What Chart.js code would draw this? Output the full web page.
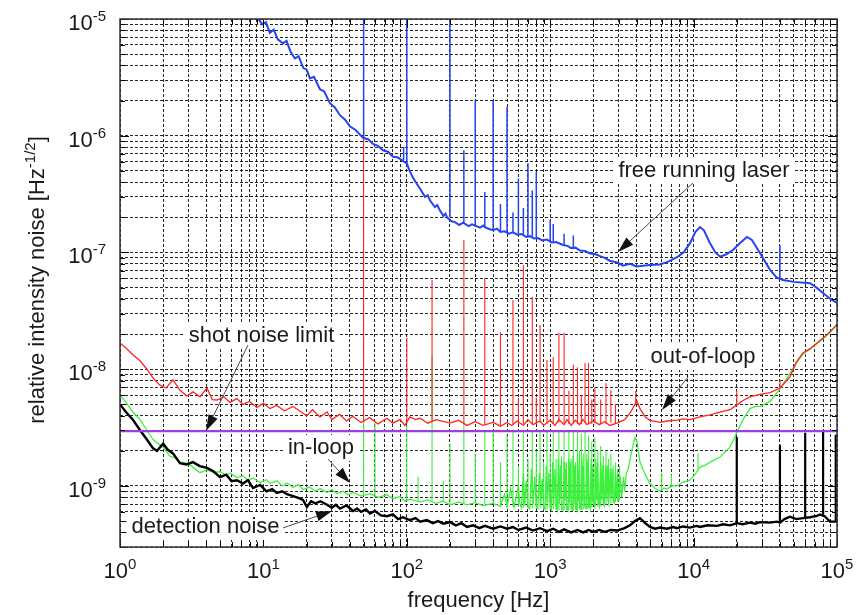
<!DOCTYPE html>
<html>
<head>
<meta charset="utf-8">
<script src="https://cdn.jsdelivr.net/npm/chart.js@4.4.0/dist/chart.umd.min.js"></script>
<style>
  html, body { margin: 0; padding: 0; background: #fff; }
  canvas { display: block; }
</style>
</head>
<body>
<canvas id="rin" width="865" height="615"></canvas>
<script>
// axis ranges and tick labels (exponents of 10)
const xRange = [1, 1e5];
const yRange = [3e-10, 1e-5];
const xTickExp = [0, 1, 2, 3, 4, 5];
const yTickExp = [-5, -6, -7, -8, -9];

// [frequency Hz, RIN 1/sqrt(Hz)]
const freeRunning = [
  [9.0,1.05e-5],[9.8,9.0e-6],[10.4,9.4e-6],[11.1,7.6e-6],[11.8,8.1e-6],[12.6,6.7e-6],[13.7,6.2e-6],[14.5,6.5e-6],
  [15.5,5.2e-6],[16.6,4.6e-6],[17.6,4.8e-6],[19.0,3.8e-6],[20.0,3.7e-6],[21.1,3.1e-6],[22.5,3.2e-6],[24.8,2.5e-6],
  [26.5,2.4e-6],[29.1,1.9e-6],[31.5,1.75e-6],[34.2,1.5e-6],[37.0,1.38e-6],[40.2,1.2e-6],[44.0,1.12e-6],[49.5,9.6e-7],
  [54.0,9.3e-7],[58.1,8.5e-7],[63.0,8.2e-7],[68.2,7.5e-7],[74.0,7.3e-7],[80.1,6.6e-7],[87.0,6.5e-7],[94.0,6.1e-7],
  [100,5.8e-7],[104,5.1e-7],[110,4.4e-7],[117,3.9e-7],[124,3.5e-7],[134,3.0e-7],[140,3.1e-7],[145,2.8e-7],[157,2.45e-7],
  [163,2.55e-7],[170,2.3e-7],[180,2.05e-7],[186,2.15e-7],[191,2.0e-7],[205,1.85e-7],[217,1.82e-7],[232,1.72e-7],[247,1.8e-7],
  [270,1.68e-7],[285,1.74e-7],[300,1.7e-7],[324,1.63e-7],[340,1.7e-7],[360,1.62e-7],[380,1.58e-7],[400,1.55e-7],[425,1.6e-7],
  [450,1.5e-7],[480,1.52e-7],[515,1.45e-7],[550,1.49e-7],[590,1.42e-7],[630,1.44e-7],[680,1.36e-7],[723,1.38e-7],
  [770,1.32e-7],[820,1.33e-7],[880,1.27e-7],[950,1.29e-7],[1020,1.22e-7],[1100,1.23e-7],[1228,1.16e-7],[1320,1.14e-7],
  [1400,1.09e-7],[1500,1.1e-7],[1614,1.04e-7],[1750,1.03e-7],[1900,9.8e-8],[2050,9.7e-8],[2225,9.3e-8],[2400,9.0e-8],
  [2600,8.5e-8],[2924,8.2e-8],[3220,7.7e-8],[3600,8.0e-8],[4000,7.6e-8],[4965,7.8e-8],[5800,7.9e-8],
  [6600,8.3e-8],[7660,9.1e-8],[8500,1.0e-7],[9440,1.2e-7],[10300,1.5e-7],[11090,1.65e-7],[11800,1.55e-7],[13010,1.2e-7],
  [14200,1.0e-7],[15280,9.2e-8],[16800,9.6e-8],[18830,1.05e-7],[21000,1.2e-7],[23570,1.36e-7],[25500,1.28e-7],[29030,9.9e-8],
  [34120,7.1e-8],[38000,6.1e-8],[42010,5.8e-8],[50000,5.6e-8],[64860,5.45e-8],[72000,5.0e-8],[79860,4.5e-8],[90000,4.0e-8],
  [100000,3.7e-8]
];
// [frequency, foot, top]
const freeSpikes = [
  [50,9.6e-7,1e-5],[95,6.2e-7,8.0e-7],[100,5.8e-7,1e-5],[200,2.0e-7,1e-5],[250,1.8e-7,7.5e-7],[300,1.7e-7,2.0e-6],
  [350,1.62e-7,3.3e-7],[400,1.55e-7,2.0e-6],[450,1.52e-7,2.6e-7],[500,1.5e-7,1.76e-6],[550,1.48e-7,2.2e-7],
  [600,1.45e-7,4.3e-7],[650,1.42e-7,2.4e-7],[700,1.39e-7,5.8e-7],[750,1.37e-7,3.4e-7],[800,1.34e-7,4.9e-7],
  [1000,1.26e-7,1.9e-7],[1050,1.24e-7,1.75e-7],[1250,1.16e-7,1.45e-7],[1450,1.09e-7,1.4e-7],[40000,5.9e-8,1.16e-7]
];

const outOfLoop = [
  [1.0,1.68e-8],[1.1,1.52e-8],[1.23,1.33e-8],[1.38,1.18e-8],[1.54,1.0e-8],[1.7,8.4e-9],[1.9,7.3e-9],[2.1,6.9e-9],
  [2.34,8.1e-9],[2.62,6.6e-9],[2.93,5.9e-9],[3.23,6.4e-9],[3.61,5.8e-9],[4.04,6.9e-9],[4.4,5.5e-9],[4.75,5.45e-9],
  [5.3,5.8e-9],[5.85,5.2e-9],[6.54,5.6e-9],[7.2,5.0e-9],[8.0,5.3e-9],[9.0,4.7e-9],[10,5.1e-9],[11.1,4.6e-9],
  [12.4,4.9e-9],[14,4.4e-9],[16.1,4.8e-9],[18.9,4.2e-9],[20.1,4.0e-9],[22,4.5e-9],[24.8,3.9e-9],[27.8,4.3e-9],
  [30,3.7e-9],[34,4.1e-9],[38,3.6e-9],[42,3.95e-9],[48,3.5e-9],[55,3.85e-9],[63,3.4e-9],[72.8,3.8e-9],
  [80,3.45e-9],[89.7,3.7e-9],[97,3.3e-9],[105,3.9e-9],[115,3.7e-9],[124,3.8e-9],[140,3.45e-9],[160,3.7e-9],
  [200,3.45e-9],[230,3.65e-9],[263,3.3e-9],[300,3.55e-9],[340,3.3e-9],[400,3.5e-9],[450,3.25e-9],[500,3.5e-9],
  [540,3.3e-9],[587,3.6e-9],[650,3.3e-9],[700,3.7e-9],[758,3.35e-9],[850,3.6e-9],[900,3.3e-9],[1000,3.65e-9],
  [1080,3.3e-9],[1150,3.7e-9],[1250,3.35e-9],[1309,3.7e-9],[1400,3.3e-9],[1500,3.65e-9],[1600,3.35e-9],[1694,3.7e-9],
  [1800,3.35e-9],[2000,3.6e-9],[2200,3.35e-9],[2400,3.55e-9],[2600,3.3e-9],[2924,3.45e-9],[3300,3.7e-9],[3600,4.2e-9],
  [3900,5.0e-9],[4030,5.3e-9],[4229,4.6e-9],[4600,3.9e-9],[4965,3.65e-9],[5834,3.5e-9],[6531,3.6e-9],[7660,3.67e-9],
  [8436,3.75e-9],[9440,3.7e-9],[11090,3.9e-9],[13010,4.06e-9],[15280,4.3e-9],[17950,4.5e-9],[20080,4.95e-9],[22120,5.4e-9],
  [24720,5.8e-9],[29030,6.1e-9],[34120,6.3e-9],[40070,6.9e-9],[47000,8.6e-9],[52000,1.15e-8],[57940,1.38e-8],[64860,1.5e-8],
  [72550,1.68e-8],[82000,1.9e-8],[89330,2.1e-8],[100000,2.4e-8]
];
const outSpikes = [
  [50,3.6e-9,1.1e-6],[100,3.4e-9,1.85e-8],[150,3.6e-9,5.8e-8],[250,3.4e-9,1.28e-7],[350,3.35e-9,6.05e-8],
  [450,3.3e-9,2.08e-8],[550,3.4e-9,3.92e-8],[600,3.4e-9,5.7e-9],[650,3.4e-9,7.8e-8],[750,3.4e-9,4.16e-8],
  [800,3.4e-9,5.7e-9],[850,3.5e-9,2.39e-8],[950,3.4e-9,1.2e-8],[1050,3.4e-9,1.27e-8],[1150,3.5e-9,2.05e-8],
  [1250,3.4e-9,2.05e-8],[1350,3.4e-9,6.5e-9],[1450,3.5e-9,1.09e-8],[1550,3.4e-9,1.04e-8],[1650,3.4e-9,6.0e-9],
  [1750,3.5e-9,1.13e-8],[1850,3.4e-9,1.13e-8],[1950,3.4e-9,5.5e-9],[2050,3.5e-9,7.05e-9],[2250,3.4e-9,5.5e-9],
  [2450,3.4e-9,7.6e-9],[2650,3.5e-9,6.6e-9],[2850,3.4e-9,5.0e-9],[3950,5.0e-9,6.5e-9],[20000,4.9e-9,6.6e-9],
  [40000,6.9e-9,8.1e-9]
];

const inLoop = [
  [1.0,6.0e-9],[1.1,5.2e-9],[1.23,4.3e-9],[1.38,3.7e-9],[1.54,3.0e-9],[1.7,2.5e-9],[1.81,2.35e-9],[2.0,2.15e-9],
  [2.23,1.8e-9],[2.45,1.72e-9],[2.6,1.6e-9],[2.93,1.57e-9],[3.23,1.45e-9],[3.61,1.3e-9],[4.04,1.37e-9],[4.5,1.3e-9],
  [4.98,1.33e-9],[5.5,1.23e-9],[5.85,1.29e-9],[6.54,1.18e-9],[7.2,1.22e-9],[7.8,1.12e-9],[8.46,1.17e-9],[9.5,1.07e-9],
  [10.5,1.13e-9],[11.1,1.05e-9],[12.4,1.11e-9],[13.5,1.0e-9],[14.6,1.06e-9],[16.1,9.7e-10],[17.5,1.03e-9],[18.9,9.3e-10],
  [21,9.8e-10],[23,9.0e-10],[24.8,9.5e-10],[27.8,8.8e-10],[30,9.3e-10],[32.6,8.6e-10],[36,9.0e-10],[39,8.4e-10],
  [42.2,8.8e-10],[48,8.2e-10],[55.4,8.6e-10],[63,8.0e-10],[72.8,8.4e-10],[80,7.8e-10],[89.7,8.1e-10],[97,7.4e-10],
  [105,7.7e-10],[124,7.3e-10],[140,7.6e-10],[160,7.1e-10],[179,7.4e-10],[200,6.9e-10],[230,7.3e-10],[263,6.9e-10],
  [300,7.2e-10],[340,6.8e-10],[400,7.1e-10],[450,6.7e-10],[480,8.5e-10],[500,6.6e-10],[530,9.5e-10],[560,6.6e-10],
  [600,1.0e-9],[615,7.0e-10],[630,6.5e-10],[650,1.3e-9],[665,6.8e-10],[680,1.1e-9],[700,6.6e-10],[720,6.4e-10],
  [740,1.4e-9],[760,7.0e-10],[780,1.2e-9],[800,6.5e-10],[820,6.4e-10],[840,1.3e-9],[860,7.0e-10],[880,1.15e-9],
  [900,6.6e-10],[920,6.3e-10],[940,1.5e-9],[960,7.2e-10],[980,1.3e-9],[1000,6.6e-10],[1020,6.3e-10],[1040,1.6e-9],
  [1060,7.0e-10],[1080,1.4e-9],[1100,6.6e-10],[1120,6.2e-10],[1140,1.7e-9],[1160,7.0e-10],[1180,1.5e-9],[1200,6.5e-10],
  [1230,6.2e-10],[1250,1.6e-9],[1265,7.5e-10],[1280,1.4e-9],[1300,6.6e-10],[1330,6.2e-10],[1345,1.7e-9],[1360,7.2e-10],
  [1380,1.6e-9],[1400,6.8e-10],[1420,6.2e-10],[1440,1.8e-9],[1460,7.0e-10],[1480,1.5e-9],[1500,6.6e-10],[1530,6.2e-10],
  [1550,1.8e-9],[1570,7.4e-10],[1600,1.6e-9],[1620,7.0e-10],[1640,6.3e-10],[1660,1.7e-9],[1680,7.5e-10],[1700,1.5e-9],
  [1740,6.8e-10],[1780,6.4e-10],[1800,1.7e-9],[1820,7.6e-10],[1840,1.6e-9],[1870,7.0e-10],[1900,6.4e-10],[1930,1.7e-9],
  [1960,7.4e-10],[1980,1.5e-9],[2010,7.0e-10],[2050,6.6e-10],[2080,1.7e-9],[2110,7.6e-10],[2140,1.6e-9],[2170,7.2e-10],
  [2200,6.7e-10],[2250,1.6e-9],[2280,7.6e-10],[2320,1.5e-9],[2350,7.2e-10],[2380,6.8e-10],[2430,1.5e-9],[2460,7.8e-10],
  [2500,1.5e-9],[2530,7.4e-10],[2560,7.0e-10],[2620,1.4e-9],[2660,8.0e-10],[2700,1.4e-9],[2750,7.6e-10],[2800,7.2e-10],
  [2850,1.3e-9],[2900,8.0e-10],[2950,1.3e-9],[3000,7.4e-10],[3080,1.2e-9],[3150,8.0e-10],[3250,1.2e-9],[3300,9.0e-10],
  [3400,1.3e-9],[3500,1.4e-9],[3700,2.0e-9],[3900,2.6e-9],[4030,2.4e-9],[4229,1.6e-9],[4600,1.25e-9],[4965,1.05e-9],
  [5400,9.5e-10],[5834,9.0e-10],[6200,9.6e-10],[6531,9.4e-10],[7000,1.0e-9],[7660,1.0e-9],[8436,1.08e-9],[9440,1.12e-9],
  [10200,1.25e-9],[11090,1.45e-9],[12000,1.5e-9],[13010,1.6e-9],[15280,1.77e-9],[17950,2.15e-9],[20080,2.9e-9],[22120,3.7e-9],
  [24720,4.6e-9],[27000,4.8e-9],[29030,4.8e-9],[34120,5.3e-9],[40070,6.8e-9],[47000,9.2e-9],[52000,1.12e-8],[57940,1.35e-8],
  [64860,1.48e-8],[72550,1.66e-8],[82000,1.88e-8],[89330,2.05e-8],[100000,2.45e-8]
];
const inSpikes = [
  [50,8.3e-10,4.0e-9],[60,8.1e-10,3.5e-9],[100,7.6e-10,3.3e-9],[120,7.4e-10,1.2e-9],[150,7.5e-10,1.3e-8],
  [180,7.4e-10,1.1e-9],[200,7.0e-10,2.3e-9],[250,7.1e-10,3.5e-9],[300,7.2e-10,1.9e-9],[350,6.9e-10,3.0e-9],
  [400,7.1e-10,2.9e-9],[450,6.7e-10,1.6e-9],[500,6.6e-10,2.7e-9],[550,6.6e-10,3.0e-9],[600,6.6e-10,1.5e-9],
  [650,6.5e-10,3.0e-9],[700,6.4e-10,1.7e-9],[750,6.4e-10,3.0e-9],[800,6.4e-10,2.0e-9],[850,6.4e-10,3.0e-9],
  [900,6.3e-10,1.6e-9],[950,6.3e-10,3.0e-9],[1000,6.3e-10,1.9e-9],[1050,6.3e-10,3.0e-9],[1100,6.2e-10,1.7e-9],
  [1150,6.2e-10,3.0e-9],[1200,6.2e-10,1.8e-9],[1250,6.2e-10,3.0e-9],[1300,6.2e-10,1.6e-9],[1350,6.2e-10,2.9e-9],
  [1400,6.2e-10,1.7e-9],[1450,6.2e-10,3.0e-9],[1500,6.2e-10,1.6e-9],[1550,6.2e-10,3.0e-9],[1600,6.3e-10,2.0e-9],
  [1650,6.3e-10,2.8e-9],[1700,6.3e-10,1.9e-9],[1750,6.4e-10,3.0e-9],[1800,6.4e-10,1.9e-9],[1850,6.4e-10,2.7e-9],
  [1950,6.5e-10,2.4e-9],[2050,6.6e-10,2.6e-9],[2150,6.7e-10,2.0e-9],[2250,6.7e-10,2.2e-9],[2350,6.8e-10,1.8e-9],
  [2450,6.9e-10,2.0e-9],[2550,7.0e-10,1.7e-9],[2650,7.1e-10,1.9e-9],[2750,7.2e-10,1.5e-9],[2850,7.3e-10,1.6e-9],
  [2950,7.4e-10,1.4e-9],[3050,7.5e-10,1.5e-9],[6000,9.3e-10,1.3e-9],[7000,1.0e-9,1.25e-9],[10740,1.4e-9,1.9e-9]
];

const detection = [
  [1.0,5.0e-9],[1.1,4.3e-9],[1.23,3.7e-9],[1.38,3.0e-9],[1.54,2.5e-9],[1.7,2.1e-9],[1.81,2.0e-9],[2.0,2.3e-9],
  [2.15,2.05e-9],[2.34,1.9e-9],[2.62,1.57e-9],[2.9,1.53e-9],[3.23,1.6e-9],[3.6,1.48e-9],[4.04,1.43e-9],[4.5,1.33e-9],
  [4.98,1.19e-9],[5.5,1.25e-9],[6.0,1.1e-9],[6.54,1.12e-9],[7.2,1.05e-9],[7.8,1.12e-9],[8.46,9.6e-10],[9.5,1.02e-9],
  [10.5,9.0e-10],[11.5,9.4e-10],[12.4,8.7e-10],[13.5,9.0e-10],[14.6,8.5e-10],[16.1,8.2e-10],[17.5,7.9e-10],[18.9,7.6e-10],
  [20.1,6.6e-10],[21.5,7.4e-10],[23,7.1e-10],[25,7.4e-10],[27.8,6.9e-10],[30,6.5e-10],[32,6.9e-10],[34.2,6.4e-10],
  [38,6.8e-10],[42.2,6.1e-10],[45,6.4e-10],[48,6.0e-10],[52,6.3e-10],[55.4,5.8e-10],[60,6.1e-10],[66,5.6e-10],
  [72.8,5.5e-10],[80,5.7e-10],[87,5.2e-10],[94,5.4e-10],[105,5.1e-10],[115,5.3e-10],[124,4.95e-10],[138,5.1e-10],
  [152,4.8e-10],[165,5.0e-10],[180,4.75e-10],[200,4.9e-10],[220,4.6e-10],[240,4.8e-10],[263,4.45e-10],[290,4.6e-10],
  [320,4.35e-10],[350,4.55e-10],[400,4.3e-10],[450,4.5e-10],[500,4.3e-10],[550,4.45e-10],[600,4.2e-10],[680,4.4e-10],
  [758,4.15e-10],[850,4.35e-10],[950,4.1e-10],[1050,4.3e-10],[1150,4.05e-10],[1250,4.25e-10],[1400,4.0e-10],[1550,4.2e-10],
  [1700,4.0e-10],[1850,4.2e-10],[2000,4.05e-10],[2200,4.2e-10],[2400,4.05e-10],[2650,4.2e-10],[2924,4.15e-10],[3300,4.35e-10],
  [3600,4.6e-10],[3900,5.0e-10],[4229,5.3e-10],[4600,4.8e-10],[4965,4.45e-10],[5400,4.3e-10],[5834,4.4e-10],[6531,4.3e-10],
  [7200,4.45e-10],[7660,4.35e-10],[8436,4.5e-10],[9440,4.4e-10],[10500,4.55e-10],[11090,4.45e-10],[12500,4.6e-10],[14560,4.55e-10],
  [16000,4.7e-10],[17950,4.6e-10],[20080,4.8e-10],[22000,4.7e-10],[24720,4.85e-10],[27000,4.75e-10],[29030,4.9e-10],[34120,4.85e-10],
  [38180,4.95e-10],[40070,4.85e-10],[43000,5.2e-10],[47000,5.45e-10],[52000,5.2e-10],[57940,5.3e-10],[65000,5.4e-10],[72550,5.55e-10],
  [76240,5.7e-10],[82000,5.5e-10],[89330,4.95e-10],[100000,4.95e-10]
];
const detSpikes = [
  [20000,4.8e-10,2.63e-9],[40000,4.9e-10,2.25e-9],[60000,5.3e-10,2.85e-9],[80000,5.6e-10,3.0e-9],[98000,4.95e-10,2.75e-9]
];

const shotF = [1, 100000];
const shotV = [2.95e-9, 2.95e-9];

// label text, anchor (centre/baseline), arrow tail and head, all in data units
const notes = [
  { text: 'free running laser', at: [11815, 4.43e-7], from: [9900, 3.94e-7], to: [2970, 1.01e-7] },
  { text: 'shot noise limit', at: [9.7, 1.71e-8], from: [7.81, 1.61e-8], to: [3.98, 2.96e-9] },
  { text: 'out-of-loop', at: [11630, 1.13e-8], from: [9140, 8.59e-9], to: [6020, 4.48e-9] },
  { text: 'in-loop', at: [25.2, 1.88e-9], from: [28.2, 1.70e-9], to: [40.2, 1.06e-9] },
  { text: 'detection noise', at: [3.95, 3.96e-10], from: [13.7, 4.37e-10], to: [30.1, 6.11e-10] }
];

const FONT = '"Liberation Sans", Arial, Helvetica, sans-serif';

const toXY = arr => arr.map(p => ({ x: p[0], y: p[1] }));
const toSpikes = arr => arr.flatMap(s => [{ x: s[0], y: s[1] }, { x: s[0], y: s[2] }, { x: s[0], y: null }]);

function decadeTicks(min, max) {
  const out = [];
  for (let e = Math.floor(Math.log10(min)); e <= Math.ceil(Math.log10(max)); e++) {
    for (let m = 1; m <= 9; m++) {
      const v = parseFloat(m + 'e' + e);
      if (v >= min * 0.999 && v <= max * 1.001) out.push(v);
    }
  }
  return out;
}
const isMajor = v => Math.abs(Math.log10(v) - Math.round(Math.log10(v))) < 1e-6;

function line(ds, color, width) {
  return { data: ds, borderColor: color, borderWidth: width, pointRadius: 0, tension: 0, fill: false, spanGaps: false };
}

function powText(ctx, base, exp, x, y, align, big, small, rise) {
  ctx.font = big + 'px ' + FONT;
  const wb = ctx.measureText(base).width;
  ctx.font = small + 'px ' + FONT;
  const we = ctx.measureText(exp).width;
  let sx = x;
  if (align === 'center') sx = x - (wb + we) / 2;
  if (align === 'right') sx = x - (wb + we);
  ctx.textAlign = 'left';
  ctx.textBaseline = 'alphabetic';
  ctx.font = big + 'px ' + FONT;
  ctx.fillText(base, sx, y);
  ctx.font = small + 'px ' + FONT;
  ctx.fillText(exp, sx + wb, y - rise);
}

function arrow(ctx, x1, y1, x2, y2) {
  const a = Math.atan2(y2 - y1, x2 - x1);
  const L = 16, W = 5;
  const bx = x2 - L * Math.cos(a), by = y2 - L * Math.sin(a);
  ctx.strokeStyle = '#4a4a4a';
  ctx.lineWidth = 1;
  ctx.beginPath();
  ctx.moveTo(x1, y1);
  ctx.lineTo(bx, by);
  ctx.stroke();
  ctx.fillStyle = '#111';
  ctx.beginPath();
  ctx.moveTo(x2, y2);
  ctx.lineTo(bx - W * Math.sin(a), by + W * Math.cos(a));
  ctx.lineTo(bx + W * Math.sin(a), by - W * Math.cos(a));
  ctx.closePath();
  ctx.fill();
}

const frame = {
  id: 'frame',
  afterDatasetsDraw(chart) {
    const { ctx, chartArea: a, scales: { x, y } } = chart;
    ctx.save();

    // inward tick marks
    ctx.strokeStyle = '#000';
    ctx.lineWidth = 1;
    ctx.beginPath();
    x.ticks.forEach(t => {
      const px = Math.round(x.getPixelForValue(t.value)) + 0.5;
      const len = isMajor(t.value) ? 9 : 5;
      ctx.moveTo(px, a.bottom); ctx.lineTo(px, a.bottom - len);
      ctx.moveTo(px, a.top); ctx.lineTo(px, a.top + len);
    });
    y.ticks.forEach(t => {
      const py = Math.round(y.getPixelForValue(t.value)) + 0.5;
      const len = isMajor(t.value) ? 9 : 5;
      ctx.moveTo(a.left, py); ctx.lineTo(a.left + len, py);
      ctx.moveTo(a.right, py); ctx.lineTo(a.right - len, py);
    });
    ctx.stroke();

    ctx.strokeStyle = '#333';
    ctx.lineWidth = 1.5;
    ctx.strokeRect(a.left, a.top, a.right - a.left, a.bottom - a.top);

    // tick labels
    ctx.fillStyle = '#1a1a1a';
    xTickExp.forEach(e => {
      const px = x.getPixelForValue(Math.pow(10, e));
      powText(ctx, '10', String(e), px, a.bottom + 31, 'center', 22, 15, 9);
    });
    yTickExp.forEach(e => {
      const py = y.getPixelForValue(parseFloat('1e' + e));
      powText(ctx, '10', String(e), a.left - 14, py + 11, 'right', 22, 15, 9);
    });

    // axis titles
    ctx.font = '22px ' + FONT;
    ctx.textAlign = 'center';
    ctx.textBaseline = 'alphabetic';
    ctx.fillText('frequency [Hz]', (a.left + a.right) / 2, 607);

    ctx.save();
    ctx.translate(44, (a.top + a.bottom) / 2 - 3);
    ctx.rotate(-Math.PI / 2);
    ctx.font = '22px ' + FONT;
    const t1 = 'relative intensity noise [Hz', t2 = '-1/2', t3 = ']';
    const w1 = ctx.measureText(t1).width, w3 = ctx.measureText(t3).width;
    ctx.font = '15px ' + FONT;
    const w2 = ctx.measureText(t2).width;
    let sx = -(w1 + w2 + w3) / 2;
    ctx.textAlign = 'left';
    ctx.font = '22px ' + FONT;
    ctx.fillText(t1, sx, 0);
    ctx.font = '15px ' + FONT;
    ctx.fillText(t2, sx + w1, -9);
    ctx.font = '22px ' + FONT;
    ctx.fillText(t3, sx + w1 + w2, 0);
    ctx.restore();

    // annotations
    ctx.font = '22px ' + FONT;
    notes.forEach(n => {
      const cx = x.getPixelForValue(n.at[0]), by = y.getPixelForValue(n.at[1]);
      const w = ctx.measureText(n.text).width;
      ctx.fillStyle = '#fff';
      ctx.fillRect(cx - w / 2 - 5, by - 19, w + 10, 26);
    });
    notes.forEach(n => {
      arrow(ctx, x.getPixelForValue(n.from[0]), y.getPixelForValue(n.from[1]),
        x.getPixelForValue(n.to[0]), y.getPixelForValue(n.to[1]));
    });
    ctx.fillStyle = '#1a1a1a';
    ctx.textAlign = 'center';
    ctx.textBaseline = 'alphabetic';
    ctx.font = '22px ' + FONT;
    notes.forEach(n => {
      ctx.fillText(n.text, x.getPixelForValue(n.at[0]), y.getPixelForValue(n.at[1]));
    });

    ctx.restore();
  }
};

const gridStyle = { color: 'rgba(0,0,0,0.85)', lineWidth: 1, drawTicks: false };

new Chart(document.getElementById('rin'), {
  type: 'line',
  data: {
    // first dataset is drawn on top
    datasets: [
      line(toSpikes(freeSpikes), '#2443f2', 1.5),
      line(toXY(freeRunning), '#2443f2', 2),
      line(shotF.map((f, i) => ({ x: f, y: shotV[i] })), '#a03cdc', 2.2),
      line(toSpikes(outSpikes), '#ff2424', 1.1),
      line(toXY(outOfLoop), '#ff2424', 1.3),
      line(toSpikes(detSpikes), '#000000', 2.2),
      line(toXY(detection), '#000000', 2.4),
      line(toSpikes(inSpikes), '#3ef03e', 1.1),
      line(toXY(inLoop), '#3ef03e', 1.3)
    ]
  },
  options: {
    responsive: false,
    animation: false,
    events: [],
    layout: { padding: { left: 120, right: 28, top: 19, bottom: 68 } },
    plugins: { legend: { display: false }, tooltip: { enabled: false } },
    scales: {
      x: {
        type: 'logarithmic', min: xRange[0], max: xRange[1],
        ticks: { display: false },
        grid: gridStyle,
        border: { display: false, dash: [3, 2] },
        afterBuildTicks: s => { s.ticks = decadeTicks(xRange[0], xRange[1]).map(v => ({ value: v })); }
      },
      y: {
        type: 'logarithmic', min: yRange[0], max: yRange[1],
        ticks: { display: false },
        grid: gridStyle,
        border: { display: false, dash: [3, 2] },
        afterBuildTicks: s => { s.ticks = decadeTicks(yRange[0], yRange[1]).map(v => ({ value: v })); }
      }
    }
  },
  plugins: [frame]
});
</script>
</body>
</html>
